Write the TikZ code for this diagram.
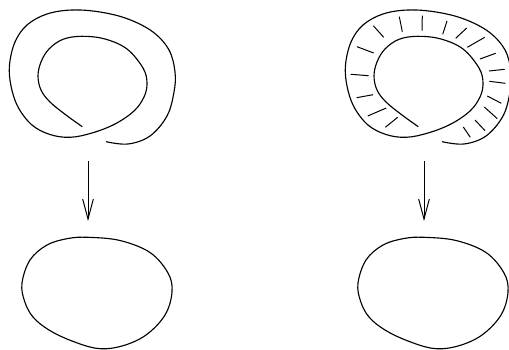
\documentclass[tikz,border=0pt]{standalone}
\usetikzlibrary{arrows.meta, positioning, calc}
\newcommand{\spiralcurve}{(106,141.7) (128,144) (150,136) (167,116) (174,92) (175,72) (169,50) (153,32) (128,19) (100,12) (72,10) (47,14) (27,25) (15,42) (9.5,65) (11,86) (18,107) (32,125) (50,134.5) (70,137.3) (92,133) (115,124) (134,111) (144,97) (147,83) (143,68) (127,49) (105,39) (82,36.3) (63,39.3) (49,49) (41,62) (38,76) (41,90) (50,102) (66,115) (82.3,126.7)}
\newcommand{\blobcurve}{(88,237.3) (120,240.5) (150,252.5) (168,273) (172,292) (165,315) (146,335) (122,346) (98,348.5) (72,341) (49,330) (33,317) (24.5,301) (22,283) (30,260) (47,245) (68,238.5)}

\begin{document}
\begin{tikzpicture}[
    x=0.75pt, y=-0.75pt,
    curve/.style={line width=0.85pt, black},
    hatchline/.style={line width=0.75pt, black},
    arr/.style={-{Straight Barb[length=15pt, width=8pt]}, line width=0.75pt}
]
\useasboundingbox (0,0) rectangle (509,349);

% ===================================================================
% LEFT COLUMN
% ===================================================================

% Spiral
\draw[curve] plot[smooth, tension=0.6] coordinates {\spiralcurve};

% Map down
\coordinate (leftTop) at (88,161);
\coordinate (leftEnd) at (88,221);
\draw[arr] (leftTop) -- (leftEnd);

% Closed curve
\draw[curve] plot[smooth cycle, tension=0.6] coordinates {\blobcurve};

% ===================================================================
% RIGHT COLUMN
% ===================================================================
\begin{scope}[xshift=252pt]
    % Spiral
    \draw[curve] plot[smooth, tension=0.6] coordinates {\spiralcurve};

    % Map down
    \coordinate (rightTop) at (88,161);
    \coordinate (rightEnd) at (88,221);
    \draw[arr] (rightTop) -- (rightEnd);

    % Closed curve
    \draw[curve] plot[smooth cycle, tension=0.6] coordinates {\blobcurve};
\end{scope}

% Hatching between the turns
\foreach \xa/\ya/\xb/\yb in {
    373.3/25.7/383.7/37.3, 399.3/16.7/402.3/31.7, 422.3/15.7/422/30.7,
    447/21/442.7/34.3, 466.7/28/455.7/38.3, 484.7/37.3/467.3/47.3,
    495.7/53.3/480/59, 504.7/69.3/489/71, 505.3/83.3/489.3/81.3,
    501.3/103.3/487.3/96, 497.3/118.7/484.3/107, 485/130.7/475/120,
    470.3/137.3/463.3/127, 357/46.7/373.7/53, 350.7/74.3/368.7/75.7,
    356.7/97.7/373/94.7, 367.7/116/386.3/108, 385.3/127.3/397.7/117.3}
    \draw[hatchline] (\xa,\ya) -- (\xb,\yb);

\end{tikzpicture}
\end{document}
